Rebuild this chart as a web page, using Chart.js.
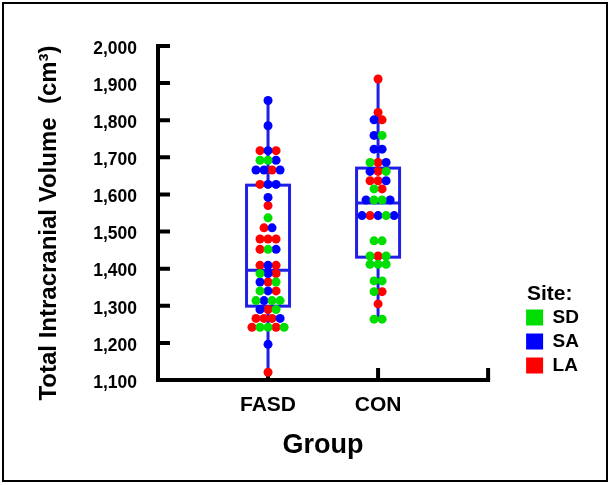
<!DOCTYPE html>
<html>
<head>
<meta charset="utf-8">
<script src="https://cdn.jsdelivr.net/npm/chart.js@4.4.1/dist/chart.umd.min.js"></script>
<style>
  body { margin: 0; background: #fff; }
  #frame { position: absolute; left: 2px; top: 2px; width: 606px; height: 480px; border: 2px solid #000; box-sizing: border-box; }
  #myChart { position: absolute; left: 0; top: 0; }
</style>
</head>
<body>
<div id="frame"></div>
<canvas id="myChart" width="612" height="485"></canvas>
<script>
// Gruppen und Standorte
var groups = ['FASD', 'CON'];
var sites = ['SD', 'SA', 'LA'];
var siteColors = ['#00dd00', '#0000ff', '#ff0000'];

// Einzelwerte (cm3) und Standort je Proband, Reihen von links nach rechts
var fasdTiv = [1853, 1785, 1718, 1718, 1718, 1692, 1692, 1692, 1666, 1666, 1666, 1666,
    1627, 1627, 1627, 1592, 1570, 1537, 1510, 1510, 1480, 1480, 1480, 1452, 1452, 1452,
    1409, 1409, 1409, 1387, 1387, 1387, 1364, 1364, 1364, 1340, 1340, 1340,
    1314, 1314, 1314, 1314, 1290, 1290, 1290, 1266, 1266, 1266, 1266,
    1242, 1242, 1242, 1242, 1242, 1196, 1121];
var fasdSite = ['SA', 'SA', 'LA', 'SA', 'LA', 'SD', 'SD', 'SA', 'SA', 'SA', 'LA', 'SA',
    'LA', 'SA', 'SA', 'SA', 'LA', 'SD', 'LA', 'SA', 'LA', 'LA', 'LA', 'LA', 'SD', 'SA',
    'LA', 'SA', 'LA', 'SD', 'SA', 'LA', 'SA', 'LA', 'SD', 'SD', 'SA', 'LA',
    'SD', 'SA', 'SD', 'SD', 'SA', 'LA', 'SD', 'LA', 'LA', 'LA', 'SA',
    'LA', 'SD', 'SD', 'LA', 'SD', 'SA', 'LA'];
var conTiv = [1911, 1821, 1801, 1801, 1759, 1759, 1722, 1722, 1686, 1686, 1686,
    1662, 1662, 1662, 1637, 1637, 1637, 1615, 1615, 1585, 1585, 1585, 1585,
    1543, 1543, 1543, 1543, 1543, 1475, 1475, 1434, 1434, 1434, 1412, 1412, 1412,
    1367, 1367, 1338, 1338, 1305, 1264, 1264];
var conSite = ['LA', 'LA', 'SA', 'LA', 'SA', 'SD', 'SA', 'SA', 'SD', 'LA', 'SA',
    'SA', 'LA', 'SD', 'LA', 'LA', 'SA', 'SD', 'LA', 'SA', 'SD', 'SD', 'SA',
    'SA', 'LA', 'SA', 'SD', 'SA', 'SD', 'SD', 'SD', 'LA', 'SD', 'SD', 'SD', 'SD',
    'SD', 'SD', 'SD', 'LA', 'LA', 'SD', 'SD'];

// Boxplot-Kennwerte (Quartile, Median)
var q1 = [1299, 1431];
var median = [1396, 1577];
var q3 = [1625, 1671];

var yTicks = [1100, 1200, 1300, 1400, 1500, 1600, 1700, 1800, 1900, 2000];

var allTiv = [fasdTiv, conTiv];
var allSite = [fasdSite, conSite];
var dotStep = 0.073; // Abstand der Punkte in einer Reihe (x-Einheiten)

// Punkte gleicher Höhe nebeneinander legen (Beeswarm)
function swarmPoints(site) {
    var pts = [];
    allTiv.forEach(function (vals, g) {
        var i = 0;
        while (i < vals.length) {
            var j = i;
            while (j < vals.length && vals[j] === vals[i]) j++;
            var n = j - i;
            for (var k = i; k < j; k++) {
                if (allSite[g][k] === site) {
                    pts.push({ x: g + 1 + (k - i - (n - 1) / 2) * dotStep, y: vals[k] });
                }
            }
            i = j;
        }
    });
    return pts;
}

var boxColor = '#1f1fe6';

// Boxen, Whisker und Achsen über die Skalen zeichnen
var boxPlugin = {
    id: 'boxes',
    beforeDatasetsDraw: function (chart) {
        var ctx = chart.ctx;
        var x = chart.scales.x;
        var y = chart.scales.y;
        var area = chart.chartArea;
        var hw = 21.5;
        ctx.save();
        ctx.strokeStyle = boxColor;
        ctx.lineWidth = 3;
        groups.forEach(function (g, i) {
            var cx = x.getPixelForValue(i + 1);
            var yq1 = y.getPixelForValue(q1[i]);
            var yq3 = y.getPixelForValue(q3[i]);
            var ymed = y.getPixelForValue(median[i]);
            var ymin = y.getPixelForValue(Math.min.apply(null, allTiv[i]));
            var ymax = y.getPixelForValue(Math.max.apply(null, allTiv[i]));
            ctx.strokeRect(cx - hw, yq3, hw * 2, yq1 - yq3);
            ctx.beginPath();
            ctx.moveTo(cx - hw, ymed); ctx.lineTo(cx + hw, ymed);
            ctx.moveTo(cx, yq3); ctx.lineTo(cx, ymax);
            ctx.moveTo(cx, yq1); ctx.lineTo(cx, ymin);
            ctx.stroke();
        });

        ctx.strokeStyle = '#000';
        ctx.lineWidth = 4;
        ctx.lineCap = 'square';
        ctx.beginPath();
        ctx.moveTo(area.left, y.getPixelForValue(yTicks[yTicks.length - 1]));
        ctx.lineTo(area.left, area.bottom);
        ctx.lineTo(x.getPixelForValue(3), area.bottom);
        ctx.stroke();
        ctx.lineCap = 'butt';
        ctx.beginPath();
        yTicks.forEach(function (t) {
            var py = y.getPixelForValue(t);
            ctx.moveTo(area.left, py); ctx.lineTo(area.left + 12, py);
        });
        [1, 2, 3].forEach(function (v) {
            var px = x.getPixelForValue(v);
            ctx.moveTo(px, area.bottom); ctx.lineTo(px, area.bottom - 12);
        });
        ctx.stroke();
        ctx.restore();
    }
};

Chart.defaults.font.family = '"Liberation Sans", Arial, sans-serif';
Chart.defaults.color = '#000';

var datasets = sites.map(function (s, i) {
    return {
        label: s,
        data: swarmPoints(s),
        backgroundColor: siteColors[i],
        borderColor: siteColors[i],
        borderWidth: 0,
        pointRadius: 4.5,
        pointBorderWidth: 0,
        pointHoverRadius: 4.5
    };
});

var ctx = document.getElementById('myChart').getContext('2d');
var myChart = new Chart(ctx, {
    type: 'scatter',
    data: { datasets: datasets },
    options: {
        responsive: false,
        animation: false,
        layout: { padding: { left: 31, right: 23, top: 46, bottom: 10 } },
        plugins: {
            tooltip: { enabled: false },
            legend: {
                position: 'right',
                align: 'end',
                fullSize: false,
                title: {
                    display: true,
                    text: ' Site:',
                    position: 'start',
                    color: '#000',
                    font: { weight: 'bold', size: 21 },
                    padding: { top: 0, bottom: -6 }
                },
                labels: {
                    boxWidth: 17,
                    boxHeight: 16,
                    padding: 5,
                    color: '#000',
                    font: { weight: 'bold', size: 19 }
                }
            }
        },
        scales: {
            x: {
                type: 'linear',
                min: 0,
                max: 3,
                grid: { display: false, drawTicks: false },
                border: { display: false },
                ticks: {
                    stepSize: 1,
                    autoSkip: false,
                    maxRotation: 0,
                    padding: 13,
                    color: '#000',
                    font: { weight: 'bold', size: 21 },
                    callback: function (v) { return groups[v - 1] || ''; }
                },
                title: {
                    display: true,
                    text: 'Group',
                    color: '#000',
                    font: { weight: 'bold', size: 27 },
                    padding: { top: 0, bottom: 13 }
                },
                afterFit: function (s) { s.height = 95; }
            },
            y: {
                min: 1100,
                max: 2000,
                grid: { display: false, drawTicks: false },
                border: { display: false },
                afterBuildTicks: function (s) {
                    s.ticks = yTicks.map(function (v) { return { value: v }; });
                },
                ticks: {
                    padding: 21,
                    labelOffset: 3,
                    color: '#000',
                    font: { weight: 'bold', size: 17.5 },
                    callback: function (v) { return v.toLocaleString('en-US'); }
                },
                title: {
                    display: true,
                    text: 'Total Intracranial Volume  (cm\u00b3)   ',
                    color: '#000',
                    font: { weight: 'bold', size: 24 },
                    padding: { top: 4, bottom: 0 }
                },
                afterFit: function (s) { s.width = 127; }
            },
            yR: {
                type: 'linear',
                position: 'right',
                grid: { display: false, drawTicks: false },
                border: { display: false },
                ticks: { display: false },
                afterFit: function (s) { s.width = 33; }
            }
        }
    },
    plugins: [boxPlugin]
});
</script>
</body>
</html>
